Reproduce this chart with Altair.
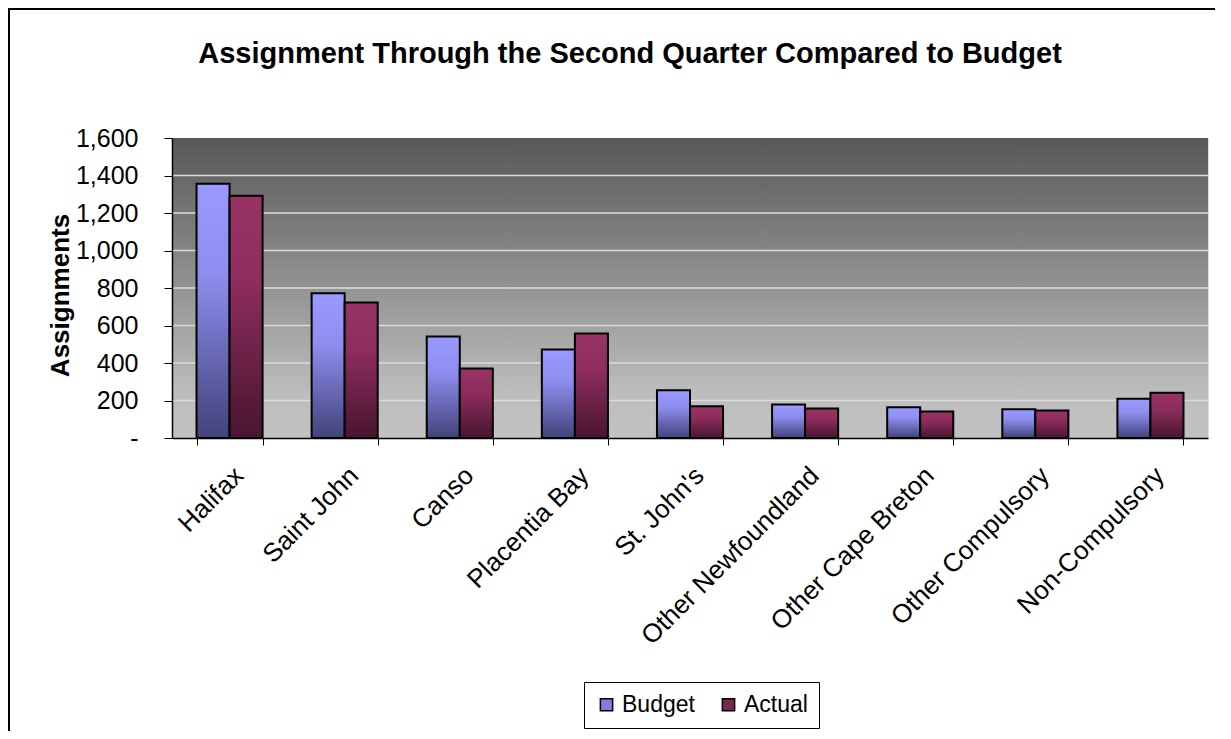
import altair as alt
import pandas as pd

categories = ["Halifax", "Saint John", "Canso", "Placentia Bay", "St. John's",
              "Other Newfoundland", "Other Cape Breton", "Other Compulsory", "Non-Compulsory"]
budget = [1356, 772, 541, 472, 255, 179, 164, 154, 209]
actual = [1292, 723, 371, 557, 170, 157, 141, 147, 241]
series = ["Budget", "Actual"]
y_ticks = [0, 200, 400, 600, 800, 1000, 1200, 1400, 1600]
grid_vals = [200, 400, 600, 800, 1000, 1200, 1400]
title_text = "Assignment Through the Second Quarter Compared to Budget"

rows = []
for c, b, a in zip(categories, budget, actual):
    rows.append({"category": c, "series": "Budget", "value": b})
    rows.append({"category": c, "series": "Actual", "value": a})
df = pd.DataFrame(rows)

W, H = 1036, 300
FONT = "Liberation Sans"

grad_budget = {"gradient": "linear", "x1": 0, "y1": 0, "x2": 0, "y2": 1,
               "stops": [{"offset": 0, "color": "#9a9aff"},
                         {"offset": 0.35, "color": "#8e8ef0"},
                         {"offset": 1, "color": "#42427a"}]}
grad_actual = {"gradient": "linear", "x1": 0, "y1": 0, "x2": 0, "y2": 1,
               "stops": [{"offset": 0, "color": "#993366"},
                         {"offset": 0.35, "color": "#8e2d5e"},
                         {"offset": 1, "color": "#48152f"}]}
grad_bg = {"gradient": "linear", "x1": 0, "y1": 0, "x2": 0, "y2": 1,
           "stops": [{"offset": 0, "color": "#585858"},
                     {"offset": 0.85, "color": "#bdbdbd"},
                     {"offset": 1, "color": "#c2c2c2"}]}

yscale = alt.Scale(domain=[0, 1600], nice=False)

x_enc = alt.X("category:N", sort=categories,
              scale=alt.Scale(paddingInner=0.426, paddingOuter=0.213),
              axis=alt.Axis(title=None, labelAngle=-45, labelFontSize=26, labelFont=FONT,
                            labelColor="#000", labelLimit=400, labelPadding=17,
                            tickBand="extent", tickSize=7, tickColor="#000",
                            domainColor="#000", domainWidth=1.5, grid=False, zindex=1))
y_enc = alt.Y("value:Q", scale=yscale,
              axis=alt.Axis(values=y_ticks, grid=False, zindex=1,
                            labelExpr="datum.value == 0 ? '-' : format(datum.value, ',')",
                            labelFontSize=25, labelFont=FONT, labelColor="#000",
                            labelPadding=26, tickSize=8, tickColor="#000",
                            domainColor="#000", domainWidth=1.5,
                            title="Assignments", titleFontSize=26, titleFont=FONT,
                            titleFontWeight="bold", titleColor="#000",
                            titleX=-112, titleY=157, titleBaseline="middle", titleAngle=-90))
xoff = alt.XOffset("series:N", sort=series)

frame = alt.Chart(alt.Data(values=[{}])).mark_rect(
    fill="white", fillOpacity=0, stroke="#000", strokeWidth=2
).encode(x=alt.value(-163), x2=alt.value(1200), y=alt.value(-129), y2=alt.value(700))

title = alt.Chart(alt.Data(values=[{}])).mark_text(
    text=title_text, font=FONT, fontSize=29, fontWeight="bold", color="#000",
    align="center", baseline="alphabetic"
).encode(x=alt.value(458), y=alt.value(-75))

bg = alt.Chart(alt.Data(values=[{}])).mark_rect(fill=grad_bg).encode(
    x=alt.value(0), x2=alt.value(W), y=alt.value(0), y2=alt.value(H))

grid = alt.Chart(pd.DataFrame({"value": grid_vals})).mark_rule(
    color="#dcdcdc", strokeWidth=1.5
).encode(y=y_enc, x=alt.value(0), x2=alt.value(W))

bars_solid = alt.Chart(df).mark_bar().encode(
    x=x_enc, xOffset=xoff, y=y_enc,
    color=alt.Color("series:N", sort=series,
                    scale=alt.Scale(domain=series, range=["#8080d8", "#7a2850"]),
                    legend=alt.Legend(title=None, orient="none", legendX=412, legendY=544,
                                      direction="horizontal", labelFontSize=23, labelFont=FONT,
                                      labelColor="#000", symbolType="square", symbolSize=150,
                                      symbolStrokeColor="#000", symbolStrokeWidth=1.5,
                                      labelOffset=4, columnPadding=22, padding=11,
                                      strokeColor="#000", fillColor="white"))
)

bars_grad = alt.Chart(df).mark_bar(stroke="#000", strokeWidth=2).encode(
    x=x_enc, xOffset=xoff, y=y_enc,
    fill=alt.condition(alt.datum.series == "Budget", alt.value(grad_budget), alt.value(grad_actual))
)

chart = alt.layer(frame, title, bg, grid, bars_solid, bars_grad).properties(
    width=W, height=H,
    autosize=alt.AutoSizeParams(type="none"),
    padding={"left": 164, "top": 130, "right": 7, "bottom": 293},
).configure_view(stroke="#333", strokeWidth=1.5).configure(font=FONT, background="white")

chart.save("out.html", embed_options={"renderer": "svg", "actions": False})
